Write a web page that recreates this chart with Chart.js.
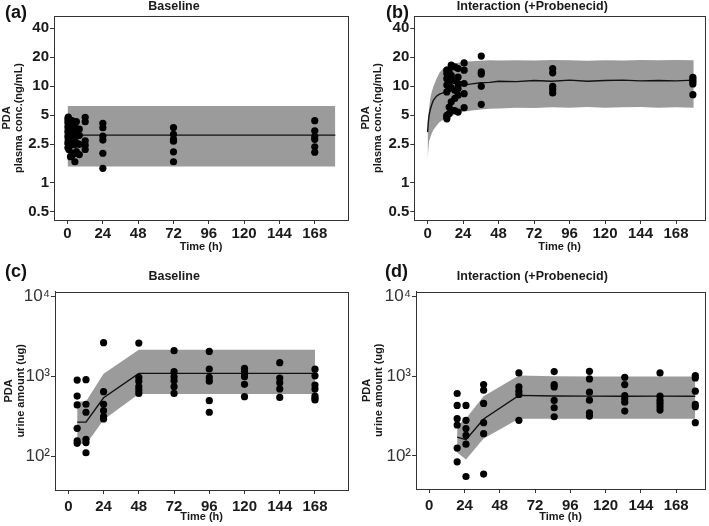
<!DOCTYPE html>
<html>
<head>
<meta charset="utf-8">
<script src="https://cdn.jsdelivr.net/npm/chart.js@4.4.1/dist/chart.umd.min.js"></script>
<style>
  body { margin: 0; background: #fff; width: 709px; height: 526px; position: relative; overflow: hidden; font-family: "Liberation Sans", Arial, sans-serif; }
  canvas { position: absolute; }
  .tag { position: absolute; font-weight: bold; font-size: 18px; color: #111; line-height: 1; }
</style>
</head>
<body>
<canvas id="pa" width="354" height="254" style="left:0;top:0"></canvas>
<canvas id="pb" width="351" height="254" style="left:358px;top:0"></canvas>
<canvas id="pc" width="354" height="276" style="left:0;top:250px"></canvas>
<canvas id="pd" width="351" height="276" style="left:358px;top:250px"></canvas>
<div class="tag" style="left:5px;top:3px">(a)</div>
<div class="tag" style="left:386px;top:3px">(b)</div>
<div class="tag" style="left:5px;top:262px">(c)</div>
<div class="tag" style="left:385px;top:262px">(d)</div>
<script>
const timeTicks = [0, 24, 48, 72, 96, 120, 144, 168];
const concTicks = [0.5, 1, 2.5, 5, 10, 20, 40];
const urineTicks = [100, 1000, 10000];
const urineLabels = { 100: "10²", 1000: "10³", 10000: "10⁴" };

// (a) baseline plasma
const aObsTime = [0.25, 0.5, 1, 1.5, 2, 3, 4, 5, 6, 8, 12, 24, 72, 168];
const aObsConc = [
  [4.6, 4.2, 3.8, 3.4, 3.0, 2.6, 2.3],
  [4.8, 4.4, 3.6, 3.2, 2.8, 2.5],
  [4.5, 4.0, 3.5, 3.1, 2.7, 2.4, 2.2],
  [4.3, 3.7, 3.3, 2.9, 2.6],
  [4.1, 3.6, 3.0, 2.5, 1.86],
  [4.4, 3.9, 3.4, 2.8, 2.5, 1.9],
  [4.2, 3.5, 3.2, 2.6, 2.0],
  [3.8, 3.0, 2.5, 1.65],
  [4.3, 3.6, 2.6, 2.1],
  [3.6, 3.1, 2.5, 1.96],
  [4.77, 4.29, 2.72, 2.45, 2.21],
  [4.13, 3.72, 3.05, 2.77, 2.02, 1.41],
  [3.74, 3.18, 2.82, 2.7, 2.09, 1.65],
  [4.4, 3.46, 3.0, 2.82, 2.36, 2.07]
];
const aPredTime = [0, 182];
const aMedian = [3.12, 3.12];
const aLower = [1.47, 1.47];
const aUpper = [6.24, 6.24];

// (b) interaction plasma
const bObsTime = [13, 14.6, 16, 18.4, 20.6, 24.7, 36.3, 84.6, 179.4];
const bObsConc = [
  [14.7, 13.6, 12.0, 10.3, 8.75, 5.0, 4.8, 4.6],
  [14.1, 11.1, 9.5, 6.1, 5.2],
  [16.6, 13.0, 9.7, 6.9, 5.6],
  [15.9, 11.5, 9.1, 7.5, 5.6],
  [15.3, 12.5, 10.7, 9.5, 8.1, 5.4],
  [17.5, 14.7, 10.7, 8.4, 6.0],
  [20.6, 14.1, 13.4, 10.0, 6.5],
  [15.3, 13.8, 10.0, 9.25, 8.55],
  [12.4, 11.8, 11.2, 10.6, 8.2]
];
const bPredTime = [0, 0.5, 1, 2, 3, 4, 6, 8, 10, 12, 16, 20, 24, 30, 36, 42, 48, 60, 72, 84, 96, 108, 120, 132, 144, 156, 168, 180];
const bMedian = [3.35, 4.3, 5.0, 5.9, 6.6, 7.2, 7.9, 8.3, 8.5, 8.8, 9.4, 9.9, 10.3, 10.6, 10.9, 11.0, 11.3, 11.2, 11.5, 11.3, 11.6, 11.3, 11.5, 11.6, 11.4, 11.5, 11.4, 11.6];
const bLower = [1.66, 2.2, 2.7, 3.0, 3.3, 3.55, 3.9, 4.25, 4.45, 4.6, 4.9, 5.2, 5.45, 5.6, 5.75, 5.85, 5.9, 6.0, 5.95, 6.05, 6.0, 6.1, 6.0, 6.05, 6.1, 6.0, 6.05, 6.0];
const bUpper = [4.0, 5.0, 6.0, 7.8, 9.0, 10.0, 12.0, 13.8, 15.0, 16.0, 16.8, 17.5, 18.0, 18.2, 18.4, 18.6, 18.5, 18.7, 18.5, 18.8, 18.6, 18.4, 18.7, 18.5, 18.8, 18.6, 18.8, 18.6];

// (c) baseline urine
const cObsTime = [6, 12, 24, 48, 72, 96, 120, 144, 168];
const cObsAmt = [
  [908, 573, 443, 226, 158, 147],
  [917, 452, 359, 165, 150, 112],
  [2660, 649, 452, 376, 316, 296],
  [2630, 980, 880, 750, 680, 617],
  [2113, 1155, 1000, 891, 750, 617],
  [2070, 1248, 980, 880, 501, 359],
  [1273, 1155, 1080, 1000, 803, 562],
  [1496, 960, 841, 702, 551],
  [1240, 1025, 787, 700, 573, 536, 511]
];
const cPredTime = [6, 12, 24, 48, 72, 96, 120, 144, 168];
const cMedian = [270, 270, 545, 1100, 1100, 1100, 1100, 1100, 1100];
const cLower = [147, 142, 290, 607, 607, 607, 607, 607, 607];
const cUpper = [490, 490, 1090, 2170, 2170, 2170, 2170, 2170, 2170];

// (d) interaction urine
const dObsTime = [19, 25, 37, 61, 85, 109, 133, 157, 181];
const dObsAmt = [
  [607, 430, 293, 244, 125, 84],
  [430, 279, 220, 181, 140, 55],
  [787, 668, 455, 261, 190, 59],
  [1101, 735, 649, 590, 279],
  [1144, 787, 735, 497, 402, 310],
  [1155, 926, 631, 501, 348, 316],
  [972, 787, 573, 521, 473, 365],
  [1101, 562, 501, 455, 414, 376],
  [1019, 953, 649, 442, 414, 261]
];
const dPredTime = [19, 25, 37, 61, 85, 109, 133, 157, 181];
const dMedian = [172, 160, 290, 575, 565, 562, 560, 562, 560];
const dLower = [110, 90, 165, 293, 293, 293, 293, 293, 293];
const dUpper = [240, 295, 560, 1019, 1000, 995, 990, 990, 990];

function toPoints(times, groups) {
  const pts = [];
  times.forEach((t, i) => groups[i].forEach((v) => pts.push({ x: t, y: v })));
  return pts;
}

function toLine(times, values) {
  return times.map((t, i) => ({ x: t, y: values[i] }));
}

const frame = {
  id: "frame",
  afterDatasetsDraw(chart) {
    const { ctx, chartArea: a } = chart;
    ctx.save();
    ctx.strokeStyle = "#333";
    ctx.lineWidth = 1;
    ctx.strokeRect(Math.round(a.left) + 0.5, Math.round(a.top) + 0.5, Math.round(a.right - a.left), Math.round(a.bottom - a.top));
    ctx.restore();
  },
};

function makePanel(id, p) {
  const urine = p.kind === "urine";
  new Chart(document.getElementById(id), {
    type: "line",
    data: {
      datasets: [
        { data: p.points, showLine: false, pointRadius: 3.6, pointBackgroundColor: "#000", pointBorderWidth: 0 },
        { data: p.median, pointRadius: 0, borderColor: "#111", borderWidth: 1.4, fill: false },
        { data: p.upper, pointRadius: 0, borderColor: "rgba(0,0,0,0)", backgroundColor: "#9b9b9b", fill: "+1" },
        { data: p.lower, pointRadius: 0, borderColor: "rgba(0,0,0,0)", fill: false },
      ],
    },
    options: {
      responsive: false,
      animation: false,
      layout: { padding: { left: 0, right: p.padRight, top: 0, bottom: 0 } },
      plugins: {
        legend: { display: false },
        tooltip: { enabled: false },
        title: {
          display: true,
          text: p.title,
          color: "#1a1a1a",
          font: { family: "Liberation Sans", size: 12.5, weight: "bold", lineHeight: 1 },
          padding: { top: p.titleTop, bottom: p.titleBottom },
        },
      },
      scales: {
        x: {
          type: "linear",
          min: p.xMin,
          max: p.xMax,
          afterBuildTicks: (s) => { s.ticks = timeTicks.map((v) => ({ value: v })); },
          afterFit: (s) => { s.height = p.xHeight; },
          ticks: { color: "#1a1a1a", font: { family: "Liberation Sans", size: 15, weight: "bold" }, padding: p.xTickPad, maxRotation: 0, autoSkip: false, callback: (v) => String(v) },
          grid: { drawOnChartArea: false, drawTicks: true, tickLength: 4, color: "#333" },
          border: { display: true, color: "#333" },
          title: { display: true, text: "Time (h)", color: "#1a1a1a", font: { family: "Liberation Sans", size: 11, weight: "bold", lineHeight: 1.2 }, padding: { top: 0, bottom: p.xTitleBottom } },
        },
        y: {
          type: "logarithmic",
          min: p.yMin,
          max: p.yMax,
          afterBuildTicks: (s) => { s.ticks = (urine ? urineTicks : concTicks).map((v) => ({ value: v })); },
          afterFit: (s) => { s.width = p.yWidth; },
          ticks: {
            color: urine ? "#333" : "#1a1a1a",
            font: urine ? { family: "Liberation Sans", size: 17 } : { family: "Liberation Sans", size: 15, weight: "bold" },
            padding: 1,
            autoSkip: false,
            callback: (v) => (urine ? urineLabels[v] : String(v)),
          },
          grid: { drawOnChartArea: false, drawTicks: true, tickLength: 4, color: "#333" },
          border: { display: true, color: "#333" },
          title: { display: true, text: p.yTitle, color: "#1a1a1a", font: { family: "Liberation Sans", size: 11, weight: "bold", lineHeight: 1.1 }, padding: { top: p.yTitlePad, bottom: 0 } },
        },
      },
    },
    plugins: [frame],
  });
}

const concTitle = ["PDA", "plasma conc.(ng/mL)"];
const urineTitle = ["PDA", "urine amount (ug)"];

makePanel("pa", {
  kind: "conc", title: "Baseline", yTitle: concTitle,
  points: toPoints(aObsTime, aObsConc), median: toLine(aPredTime, aMedian), upper: toLine(aPredTime, aUpper), lower: toLine(aPredTime, aLower),
  xMin: -9.2, xMax: 190.6, yMin: 0.41, yMax: 53.7,
  padRight: 6, titleTop: 0, titleBottom: 3.5, xHeight: 34, xTickPad: 1, xTitleBottom: 0.5, yWidth: 54, yTitlePad: 0.5,
});
makePanel("pb", {
  kind: "conc", title: "Interaction (+Probenecid)", yTitle: concTitle,
  points: toPoints(bObsTime, bObsConc), median: toLine(bPredTime, bMedian), upper: toLine(bPredTime, bUpper), lower: toLine(bPredTime, bLower),
  xMin: -9, xMax: 187.6, yMin: 0.41, yMax: 53.7,
  padRight: 2.3, titleTop: 0, titleBottom: 3.5, xHeight: 34, xTickPad: 1, xTitleBottom: 0.5, yWidth: 56.3, yTitlePad: 2,
});
makePanel("pc", {
  kind: "urine", title: "Baseline", yTitle: urineTitle,
  points: toPoints(cObsTime, cObsAmt), median: toLine(cPredTime, cMedian), upper: toLine(cPredTime, cUpper), lower: toLine(cPredTime, cLower),
  xMin: -9.1, xMax: 190.7, yMin: 38.3, yMax: 11550,
  padRight: 5.7, titleTop: 20.4, titleBottom: 8.8, xHeight: 36, xTickPad: 3.5, xTitleBottom: 2.7, yWidth: 55, yTitlePad: 3,
});
makePanel("pd", {
  kind: "urine", title: "Interaction (+Probenecid)", yTitle: urineTitle,
  points: toPoints(dObsTime, dObsAmt), median: toLine(dPredTime, dMedian), upper: toLine(dPredTime, dUpper), lower: toLine(dPredTime, dLower),
  xMin: -9, xMax: 187.6, yMin: 38.3, yMax: 11550,
  padRight: 2.3, titleTop: 20.4, titleBottom: 8.8, xHeight: 37, xTickPad: 3.5, xTitleBottom: 2.7, yWidth: 58, yTitlePad: 2.5,
});
</script>
</body>
</html>
